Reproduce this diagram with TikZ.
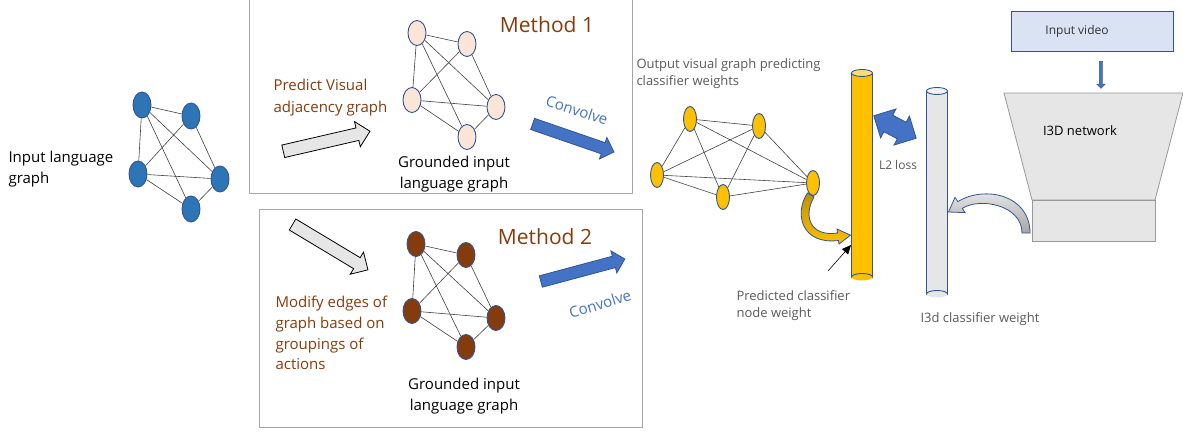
\documentclass[tikz,border=0pt]{standalone}
\usepackage{fontspec}
\setmainfont{Open Sans}
\usetikzlibrary{shapes.geometric}
\usetikzlibrary{shapes.arrows}
\usetikzlibrary{arrows.meta}

\definecolor{nodeblue}{HTML}{2E75B6}
\definecolor{edgeblue}{HTML}{2F5597}
\definecolor{peach}{HTML}{FBE5D6}
\definecolor{brownish}{HTML}{843C0C}
\definecolor{convblue}{HTML}{4472C4}
\definecolor{gold}{HTML}{FFC000}
\definecolor{darkgold}{HTML}{BF9000}
\definecolor{lightgray}{HTML}{E7E6E6}
\definecolor{framegray}{HTML}{A6A6A6}
\definecolor{textgray}{HTML}{595959}
\definecolor{videoblue}{HTML}{DAE3F3}

\begin{document}
\begin{tikzpicture}[x=1pt, y=-1pt,
    vertex/.style={ellipse, draw=edgeblue, line width=0.9pt, inner sep=0pt, minimum width=18pt, minimum height=25pt},
    edge/.style={draw=black!75, line width=0.6pt},
    label/.style={font=\fontsize{15}{21.5}\selectfont, align=left},
    grey label/.style={font=\fontsize{13}{17}\selectfont, text=textgray, align=left},
    grey arrow/.style={single arrow, draw=black, line width=0.8pt, fill=lightgray, inner xsep=0pt, inner ysep=6pt, single arrow head extend=6.5pt},
    blue arrow/.style={single arrow, draw=edgeblue, line width=0.8pt, fill=convblue, inner xsep=0pt, inner ysep=5.5pt, single arrow head extend=5.5pt},
    rod/.style={draw=edgeblue, line width=0.9pt}]
  \useasboundingbox (0,0) rectangle (1183,433);

  % method frames
  \draw[framegray, line width=0.8pt] (249,0) -- (249,193) -- (632,193) -- (632,0);
  \draw[framegray, line width=0.8pt] (259,209) rectangle (642,427);

  % input language graph
  \node[vertex, fill=nodeblue, minimum height=26pt] (in1) at (142,105) {};
  \node[vertex, fill=nodeblue, minimum height=26pt] (in2) at (191,116) {};
  \node[vertex, fill=nodeblue, minimum height=26pt] (in3) at (138,174) {};
  \node[vertex, fill=nodeblue, minimum height=26pt] (in4) at (220,179) {};
  \node[vertex, fill=nodeblue, minimum height=26pt] (in5) at (191,209) {};
  \foreach \a/\b in {1/2,1/3,1/4,1/5,2/3,2/4,3/4,3/5,4/5}
    \draw[edge] (in\a) -- (in\b);
  \node[label, anchor=west] (inlabel) at (5,169) {Input language\\graph};

  % method 1
  \node[vertex, fill=peach] (ma1) at (417,33) {};
  \node[vertex, fill=peach] (ma2) at (467,44) {};
  \node[vertex, fill=peach] (ma3) at (412,100) {};
  \node[vertex, fill=peach] (ma4) at (496,107) {};
  \node[vertex, fill=peach] (ma5) at (467,137) {};
  \foreach \a/\b in {1/2,1/3,1/4,1/5,2/3,2/4,3/4,3/5,4/5}
    \draw[edge] (ma\a) -- (ma\b);
  \node[font=\fontsize{21}{24}\selectfont, text=brownish] (methoda) at (547,25) {Method 1};
  \node[label, text=brownish, anchor=west] (predlabel) at (270,97.5) {Predict Visual\\adjacency graph};
  \node[label, align=center] (grounda) at (454,174) {Grounded input\\language graph};
  \node[grey arrow, minimum height=89pt, rotate=13] (predarrow) at (323.5,142) {};
  \node[blue arrow, minimum height=86pt, rotate=-19] (conva) at (570.5,137) {};
  \node[label, text=convblue, rotate=-18] (convalabel) at (577,110) {Convolve};

  % method 2
  \node[vertex, fill=brownish] (mb1) at (416,244) {};
  \node[vertex, fill=brownish] (mb2) at (466,255) {};
  \node[vertex, fill=brownish] (mb3) at (412,311) {};
  \node[vertex, fill=brownish] (mb4) at (496,318) {};
  \node[vertex, fill=brownish] (mb5) at (466,347) {};
  \foreach \a/\b in {1/2,1/3,1/4,1/5,2/3,2/4,3/4,3/5,4/5}
    \draw[edge] (mb\a) -- (mb\b);
  \node[font=\fontsize{21}{24}\selectfont, text=brownish] (methodb) at (545,237) {Method 2};
  \node[label, text=brownish, anchor=west, font=\fontsize{15}{20.7}\selectfont] (modlabel) at (272,333) {Modify edges of\\graph based on\\groupings of\\actions};
  \node[label, align=center] (groundb) at (464,396) {Grounded input\\language graph};
  \node[grey arrow, minimum height=88pt, rotate=-31] (modarrow) at (327.5,245.5) {};
  \node[blue arrow, minimum height=87pt, rotate=15] (convb) at (580,271) {};
  \node[label, text=convblue, rotate=17] (convblabel) at (600,304) {Convolve};

  % output visual graph
  \node[vertex, fill=gold, minimum width=13pt] (out1) at (690,119) {};
  \node[vertex, fill=gold, minimum width=13pt] (out2) at (759,126) {};
  \node[vertex, fill=gold, minimum width=13pt] (out3) at (657,175) {};
  \node[vertex, fill=gold, minimum width=13pt] (out4) at (723,197) {};
  \node[vertex, fill=gold, minimum width=13pt] (out5) at (813,183) {};
  \foreach \a/\b in {1/2,1/3,1/4,1/5,2/3,2/4,2/5,3/4,3/5,4/5}
    \draw[edge] (out\a) -- (out\b);
  \node[grey label, anchor=west] (outlabel) at (633,73.5) {Output visual graph predicting\\classifier weights};

  % classifier weights (two rods)
  \fill[gold] (851.5,73) rectangle (872.5,277);
  \fill[gold] (862,277) ellipse [x radius=10.5, y radius=3.5];
  \draw[rod] (851.5,73) -- (851.5,277) arc[start angle=180, end angle=360, x radius=10.5, y radius=3.5] -- (872.5,73);
  \draw[rod, fill=gold!55!white] (862,73) ellipse [x radius=10.5, y radius=3.5];
  \fill[lightgray] (926.5,91) rectangle (947.5,294);
  \fill[lightgray] (937,294) ellipse [x radius=10.5, y radius=3.5];
  \draw[rod] (926.5,91) -- (926.5,294) arc[start angle=180, end angle=360, x radius=10.5, y radius=3.5] -- (947.5,91);
  \draw[rod, fill=lightgray!50!white] (937,91) ellipse [x radius=10.5, y radius=3.5];

  \node[double arrow, draw=edgeblue, line width=0.8pt, fill=convblue, inner xsep=0pt, inner ysep=9pt, double arrow head extend=7pt, minimum height=48pt, rotate=-28] (lossarrow) at (895,127) {};
  \node[grey label, font=\fontsize{12}{14}\selectfont] (losslabel) at (898,165) {L2 loss};
  \node[grey label, anchor=west] (pclabel) at (733,305.5) {Predicted classifier\\node weight};
  \node[grey label, anchor=west] (i3dlabel) at (917,319) {I3d classifier weight};

  % curved arrow from graph node to predicted weight
  \shade[top color=darkgold, bottom color=gold, draw=edgeblue, line width=0.8pt]
    (807.5,193) .. controls (794,213) and (801,245) .. (838.5,240.5) -- (839,244)
    -- (850.5,235.2) -- (837,229) -- (837.5,233)
    .. controls (810,237) and (803,216) .. (814,197) -- cycle;
  \coordinate (pcstart) at (828,271);
  \coordinate (pctip) at (851,245);
  \draw[black, line width=0.6pt, -{Triangle[length=9pt, width=8pt]}] (pcstart) -- (pctip);

  % I3D network
  \node[draw=edgeblue, line width=0.9pt, fill=videoblue, minimum width=162pt, minimum height=40pt, font=\fontsize{12}{14}\selectfont, text=black!80] (video) at (1092,31) {Input video\hspace*{30pt}};
  \draw[draw=black!40, line width=0.8pt, fill=lightgray] (1004,93) -- (1183,93) -- (1155,200) -- (1032,200) -- cycle;
  \node[draw=black!40, line width=0.8pt, fill=lightgray, minimum width=123pt, minimum height=41pt] (i3dbase) at (1093.5,220.5) {};
  \node[font=\fontsize{13}{15}\selectfont] (i3dlabel2) at (1080,131) {I3D network};
  \node[single arrow, draw=edgeblue, fill=convblue, inner xsep=0pt, inner ysep=1.5pt, single arrow head extend=2.5pt, minimum height=27pt, rotate=-90] (videoarrow) at (1101,74) {};

  % curved arrow from network to I3d weight
  \shade[top color=lightgray!60!white, bottom color=black!35, draw=edgeblue, line width=0.8pt]
    (1022,233) -- (1030,233) .. controls (1030,195) and (985,185) .. (957.8,201.6)
    -- (955,197.4) -- (948.5,212) -- (965,212.6) -- (962.2,208.4)
    .. controls (980,197) and (1022,205) .. (1022,233) -- cycle;
\end{tikzpicture}
\end{document}
